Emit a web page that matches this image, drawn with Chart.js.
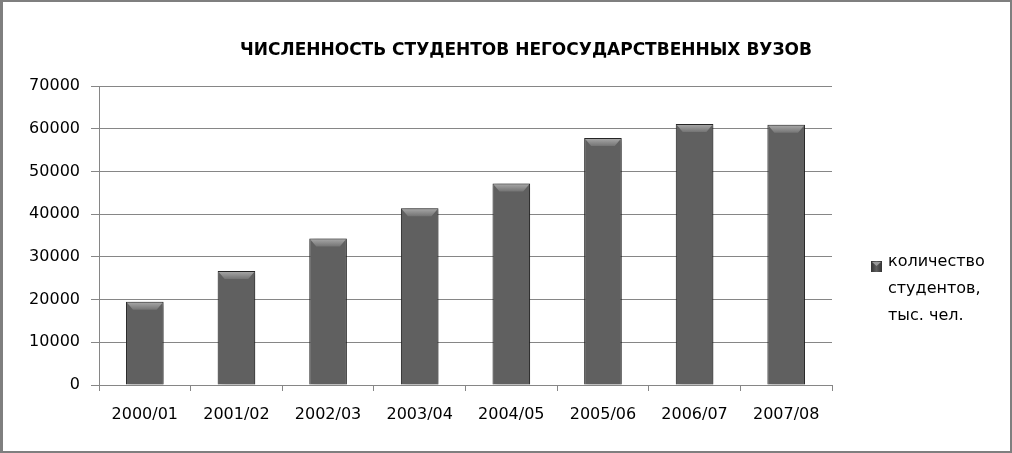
<!DOCTYPE html>
<html>
<head>
<meta charset="utf-8">
<script src="https://cdn.jsdelivr.net/npm/chart.js@4.4.1/dist/chart.umd.min.js"></script>
<style>
  html, body { margin: 0; padding: 0; background: #fff; }
  #wrap { width: 1012px; height: 453px; position: relative; }
</style>
</head>
<body>
<div id="wrap"><canvas id="c" width="1012" height="453"></canvas></div>
<script>
const chartTitle = 'ЧИСЛЕННОСТЬ СТУДЕНТОВ НЕГОСУДАРСТВЕННЫХ ВУЗОВ';
const categories = ['2000/01', '2001/02', '2002/03', '2003/04', '2004/05', '2005/06', '2006/07', '2007/08'];
const students = [19500, 26700, 34300, 41400, 47200, 57800, 61100, 60900];
const seriesLabel = 'количество студентов, тыс. чел.';
const legendLines = ['количество', 'студентов,', 'тыс. чел.'];
const yTicks = [0, 10000, 20000, 30000, 40000, 50000, 60000, 70000];

Chart.defaults.font.family = '"DejaVu Sans", sans-serif';
Chart.defaults.font.size = 16;
Chart.defaults.color = '#000';

const GRID = '#868686';

function barGradient(ctx) {
  const chart = ctx.chart;
  const el = ctx.element;
  if (!el || !chart.chartArea) return '#606060';
  const w = el.width;
  if (!Number.isFinite(el.x) || !Number.isFinite(w) || w <= 0) return '#606060';
  const x0 = el.x - w / 2, x1 = el.x + w / 2;
  const g = chart.ctx.createLinearGradient(x0, 0, x1, 0);
  g.addColorStop(0, '#2a2a2a');
  g.addColorStop(0.08, '#505050');
  g.addColorStop(0.2, '#626262');
  g.addColorStop(0.8, '#626262');
  g.addColorStop(0.92, '#505050');
  g.addColorStop(1, '#2a2a2a');
  return g;
}

const framePlugin = {
  id: 'frame',
  beforeDraw(chart) {
    const c = chart.ctx;
    c.save();
    c.fillStyle = '#fff';
    c.fillRect(0, 0, chart.width, chart.height);
    c.fillStyle = '#7f7f7f';
    c.fillRect(0, 0, chart.width, 2);
    c.fillRect(0, 0, 3, chart.height);
    c.fillRect(chart.width - 2, 0, 2, chart.height);
    c.fillRect(0, chart.height - 2, chart.width, 2);
    c.restore();
  }
};

const barStylePlugin = {
  id: 'barStyle',
  beforeDatasetsDraw(chart) {
    const c = chart.ctx;
    c.save();
    c.shadowColor = 'rgba(0,0,0,0.4)';
    c.shadowBlur = 6;
    c.shadowOffsetX = 2;
    c.shadowOffsetY = 1;
  },
  afterDatasetsDraw(chart) {
    const c = chart.ctx;
    c.restore();
    const meta = chart.getDatasetMeta(0);
    c.save();
    meta.data.forEach(el => {
      const w = el.width, l = el.x - w / 2, r = el.x + w / 2, t = el.y;
      if (![w, l, r, t].every(Number.isFinite)) return;
      const g = c.createLinearGradient(0, t, 0, t + 8);
      g.addColorStop(0, '#ababab');
      g.addColorStop(1, '#747474');
      c.fillStyle = g;
      c.beginPath();
      c.moveTo(l + 1, t + 1);
      c.lineTo(r - 1, t + 1);
      c.lineTo(r - 7, t + 8);
      c.lineTo(l + 7, t + 8);
      c.closePath();
      c.fill();
    });
    c.restore();
  }
};

const legendPlugin = {
  id: 'sideLegend',
  afterDraw(chart) {
    const c = chart.ctx;
    c.save();
    const bx = 871, by = 261, bs = 11;
    const g = c.createLinearGradient(bx, 0, bx + bs, 0);
    g.addColorStop(0, '#333');
    g.addColorStop(0.5, '#5e5e5e');
    g.addColorStop(1, '#333');
    c.fillStyle = g;
    c.fillRect(bx, by, bs, bs);
    c.fillStyle = '#999';
    c.beginPath();
    c.moveTo(bx + 1, by + 1); c.lineTo(bx + bs - 1, by + 1); c.lineTo(bx + bs / 2, by + 5); c.closePath();
    c.fill();
    c.fillStyle = '#000';
    c.font = '16px "DejaVu Sans", sans-serif';
    c.textAlign = 'left';
    c.textBaseline = 'alphabetic';
    legendLines.forEach((line, i) => c.fillText(line, 888, 266 + i * 27));
    c.restore();
  }
};

new Chart(document.getElementById('c'), {
  type: 'bar',
  data: {
    labels: categories,
    datasets: [{
      label: seriesLabel,
      data: students,
      backgroundColor: barGradient,
      borderColor: '#2b2b2b',
      borderWidth: 1,
      barPercentage: 0.41,
      categoryPercentage: 1.0,
      yAxisID: 'y'
    }]
  },
  options: {
    responsive: false,
    animation: false,
    layout: { padding: { left: 20, right: -20, top: 0, bottom: 0 } },
    plugins: {
      legend: { display: false },
      tooltip: { enabled: false },
      title: {
        display: true,
        text: chartTitle,
        color: '#000',
        font: { family: '"DejaVu Sans", sans-serif', size: 17, weight: 'bold', lineHeight: 1.2 },
        padding: { top: 40.8, bottom: 24.8 }
      }
    },
    scales: {
      x: {
        grid: { display: true, drawOnChartArea: false, drawTicks: true, tickLength: 6, color: GRID, offset: true },
        border: { display: true, color: GRID },
        ticks: { padding: 14, color: '#000', maxRotation: 0, autoSkip: false },
        afterFit(s) { s.height = 68; }
      },
      y: {
        min: 0,
        max: 70000,
        afterBuildTicks(s) { s.ticks = yTicks.map(v => ({ value: v })); },
        grid: { color: GRID, drawTicks: true, tickLength: 8 },
        border: { display: true, color: GRID },
        ticks: { padding: 11, color: '#000', callback: v => String(v) },
        afterFit(s) { s.width = 79; }
      },
      spacer: {
        type: 'linear',
        position: 'right',
        display: true,
        min: 0,
        max: 1,
        grid: { display: false, drawTicks: false },
        border: { display: false },
        ticks: { display: false },
        afterFit(s) { s.width = 200; }
      }
    }
  },
  plugins: [framePlugin, barStylePlugin, legendPlugin]
});
</script>
</body>
</html>
